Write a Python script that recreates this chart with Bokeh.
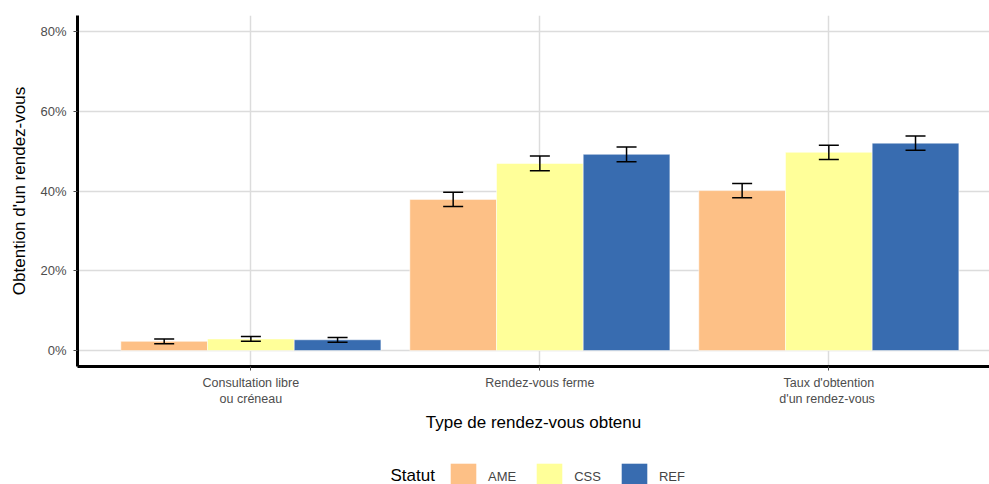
from bokeh.plotting import figure
from bokeh.layouts import column
from bokeh.models import ColumnDataSource, Whisker, Legend, LegendItem, FixedTicker, PrintfTickFormatter, Range1d, Label
from bokeh.transform import dodge
from bokeh.embed import file_html
from bokeh.resources import INLINE

categories = ["Consultation libre\nou créneau", "Rendez-vous ferme", "Taux d'obtention\nd'un  rendez-vous"]
cat_pos = [1, 2, 3]
series = ["AME", "CSS", "REF"]
colors = ["#fdc086", "#ffff99", "#386cb0"]
ame = [2.3, 37.9, 40.1]
css = [2.9, 46.9, 49.7]
ref = [2.7, 49.2, 52.0]
ame_err = [0.6, 1.8, 1.8]
css_err = [0.6, 1.85, 1.8]
ref_err = [0.6, 1.85, 1.8]
y_ticks = [0, 20, 40, 60, 80]

FONT = "Liberation Sans"

p = figure(width=989, height=445, output_backend="svg", toolbar_location=None,
           x_range=Range1d(0.4, 3.556), y_range=Range1d(-4, 84),
           min_border_left=77, min_border_top=15, min_border_right=0, min_border_bottom=79)
p.outline_line_color = None
p.background_fill_color = "white"

values = [ame, css, ref]
errs = [ame_err, css_err, ref_err]
offsets = [-0.3, 0.0, 0.3]
for name, col, vals, err, off in zip(series, colors, values, errs, offsets):
    src = ColumnDataSource(dict(x=cat_pos, top=vals,
                                upper=[v + e for v, e in zip(vals, err)],
                                lower=[v - e for v, e in zip(vals, err)]))
    p.vbar(x=dodge("x", off, range=p.x_range), top="top", bottom=0, width=0.3,
           source=src, fill_color=col, line_color="white", line_width=0.5)
    w = Whisker(base=dodge("x", off, range=p.x_range), upper="upper", lower="lower", source=src,
                line_color="black", line_width=1.5, dimension="height", level="overlay")
    for head in (w.upper_head, w.lower_head):
        head.size = 20
        head.line_width = 1.5
        head.line_color = "black"
    p.add_layout(w)

# axes
p.xaxis.ticker = FixedTicker(ticks=cat_pos)
p.xaxis.major_label_overrides = {pos: lab for pos, lab in zip(cat_pos, categories)}
p.yaxis.ticker = FixedTicker(ticks=y_ticks)
p.yaxis.formatter = PrintfTickFormatter(format="%d%%")
for ax in (p.xaxis, p.yaxis):
    ax.axis_line_width = 3
    ax.axis_line_color = "black"
    ax.major_tick_line_color = "#4d4d4d"
    ax.major_tick_line_width = 1
    ax.major_tick_out = 4
    ax.major_tick_in = 0
    ax.minor_tick_line_color = None
    ax.major_label_text_font = FONT
    ax.major_label_text_font_size = "13px"
    ax.major_label_text_color = "#4d4d4d"
    ax.axis_label_text_font = FONT
    ax.axis_label_text_font_size = "17px"
    ax.axis_label_text_font_style = "normal"
    ax.axis_label_text_color = "black"
p.xaxis.major_label_text_font_size = "12.5px"
p.xaxis.axis_label = "Type de rendez-vous obtenu"
p.yaxis.axis_label = "Obtention d'un rendez-vous"
p.xaxis.major_label_standoff = 5
p.xaxis.axis_label_standoff = 4
p.yaxis.major_label_standoff = 7
p.yaxis.axis_label_standoff = 8

p.xgrid.grid_line_color = "#dcdcdc"
p.xgrid.grid_line_width = 1.5
p.ygrid.grid_line_color = "#dcdcdc"
p.ygrid.grid_line_width = 1.5

# legend strip (its frame is aligned with the main frame: x from 77 to 989 px)
lf = figure(width=989, height=39, output_backend="svg", toolbar_location=None,
            x_range=Range1d(77, 989), y_range=Range1d(0, 39),
            x_axis_type=None, y_axis_type=None,
            min_border_left=77, min_border_right=0, min_border_top=0, min_border_bottom=0)
lf.outline_line_color = None
lf.xgrid.visible = False
lf.ygrid.visible = False
items = []
for name, col in zip(series, colors):
    # zero-size key glyph, only used to draw the legend swatch
    r = lf.vbar(x=[0], top=[0], bottom=[0], width=0, fill_color=col, line_color=None)
    items.append(LegendItem(label=name, renderers=[r]))
legend = Legend(items=items, orientation="horizontal",
                label_text_font=FONT, label_text_font_size="13px",
                glyph_width=32, glyph_height=32, label_standoff=9, spacing=17,
                border_line_color=None, background_fill_alpha=0,
                margin=0, padding=0, location=(370, -8))
lf.add_layout(legend, "center")
lf.add_layout(Label(x=390, y=9, text="Statut", text_font=FONT, text_font_size="17px",
                    text_baseline="middle", text_color="black"))

open("out.html", "w").write(file_html(column(p, lf, spacing=0), INLINE))
